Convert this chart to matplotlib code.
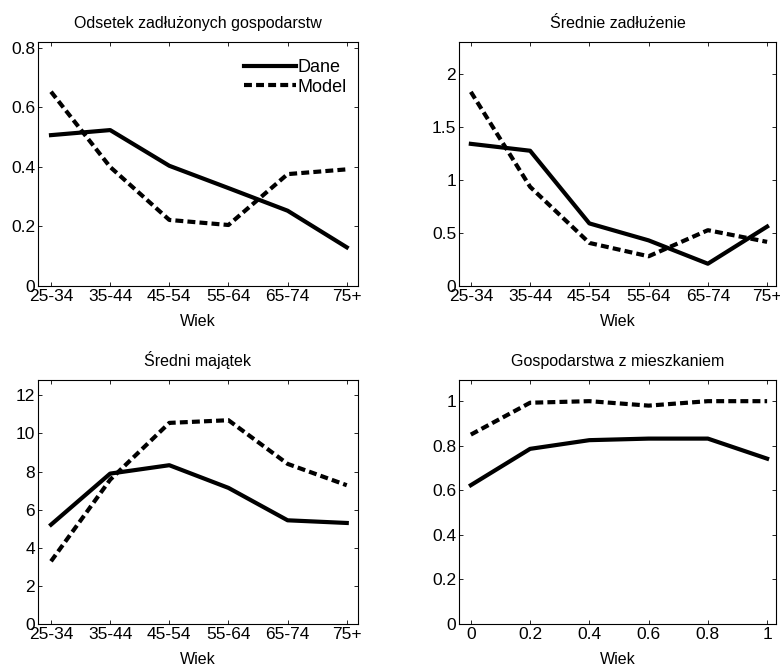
import numpy as np
import matplotlib.pyplot as plt

plt.rcParams['font.family'] = ['Liberation Sans', 'DejaVu Sans']

age_groups = ["25-34", "35-44", "45-54", "55-64", "65-74", "75+"]
house_x = [0, 0.2, 0.4, 0.6, 0.8, 1.0]

debt_share_data = [0.507, 0.524, 0.404, 0.329, 0.253, 0.13]
debt_share_model = [0.653, 0.40, 0.222, 0.205, 0.376, 0.392]

avg_debt_data = [1.34, 1.275, 0.59, 0.43, 0.21, 0.56]
avg_debt_model = [1.83, 0.935, 0.406, 0.28, 0.526, 0.416]

avg_wealth_data = [5.21, 7.89, 8.33, 7.14, 5.44, 5.3]
avg_wealth_model = [3.29, 7.57, 10.55, 10.69, 8.4, 7.28]

home_data = [0.623, 0.786, 0.825, 0.832, 0.832, 0.742]
home_model = [0.85, 0.993, 1.0, 0.98, 1.0, 1.0]

lw = 3.0
dash = (0, (1.9, 1.0))

fig = plt.figure(figsize=[7.8, 6.66], dpi=100)
ax1 = fig.add_axes([38 / 780, 1 - 286 / 666, 320 / 780, 244 / 666])
ax2 = fig.add_axes([459 / 780, 1 - 286 / 666, 317 / 780, 244 / 666])
ax3 = fig.add_axes([38 / 780, 1 - 624 / 666, 320 / 780, 244 / 666])
ax4 = fig.add_axes([459 / 780, 1 - 624 / 666, 317 / 780, 244 / 666])

pos = np.arange(len(age_groups))


def style(ax, title, xlim, ylim, yticks):
    ax.set_xlim(*xlim)
    ax.set_ylim(*ylim)
    ax.set_yticks(yticks)
    ax.set_yticklabels([("%g" % v) for v in yticks])
    ax.set_title(title, fontsize=11.5, pad=10)
    ax.set_xlabel("Wiek", fontsize=11.5, labelpad=7)
    ax.tick_params(direction="in", length=3, width=0.6, top=True, right=True,
                   labelsize=12.5, pad=2)
    for s in ax.spines.values():
        s.set_linewidth(0.8)


ax1.plot(pos, debt_share_data, "k-", lw=lw, label="Dane")
ax1.plot(pos, debt_share_model, color="k", linestyle=dash, lw=lw, label="Model")
ax1.set_xticks(pos)
ax1.set_xticklabels(age_groups)
style(ax1, "Odsetek zadłużonych gospodarstw", (-0.22, 5.19), (0, 0.82),
      [0, 0.2, 0.4, 0.6, 0.8])
ax1.legend(loc="upper right", bbox_to_anchor=(1.0, 0.975), frameon=False,
           fontsize=13, handlelength=2.9, handletextpad=0.1,
           labelspacing=0.15, borderaxespad=0.2)

ax2.plot(pos, avg_debt_data, "k-", lw=lw)
ax2.plot(pos, avg_debt_model, color="k", linestyle=dash, lw=lw)
ax2.set_xticks(pos)
ax2.set_xticklabels(age_groups)
style(ax2, "Średnie zadłużenie", (-0.2, 5.15), (0, 2.3), [0, 0.5, 1, 1.5, 2])

ax3.plot(pos, avg_wealth_data, "k-", lw=lw)
ax3.plot(pos, avg_wealth_model, color="k", linestyle=dash, lw=lw)
ax3.set_xticks(pos)
ax3.set_xticklabels(age_groups)
style(ax3, "Średni majątek", (-0.22, 5.19), (0, 12.8), [0, 2, 4, 6, 8, 10, 12])

ax4.plot(house_x, home_data, "k-", lw=lw)
ax4.plot(house_x, home_model, color="k", linestyle=dash, lw=lw)
ax4.set_xticks(house_x)
ax4.set_xticklabels(["0", "0.2", "0.4", "0.6", "0.8", "1"])
style(ax4, "Gospodarstwa z mieszkaniem", (-0.04, 1.03), (0, 1.095),
      [0, 0.2, 0.4, 0.6, 0.8, 1])

plt.savefig("out.png", dpi=100)
plt.close()
